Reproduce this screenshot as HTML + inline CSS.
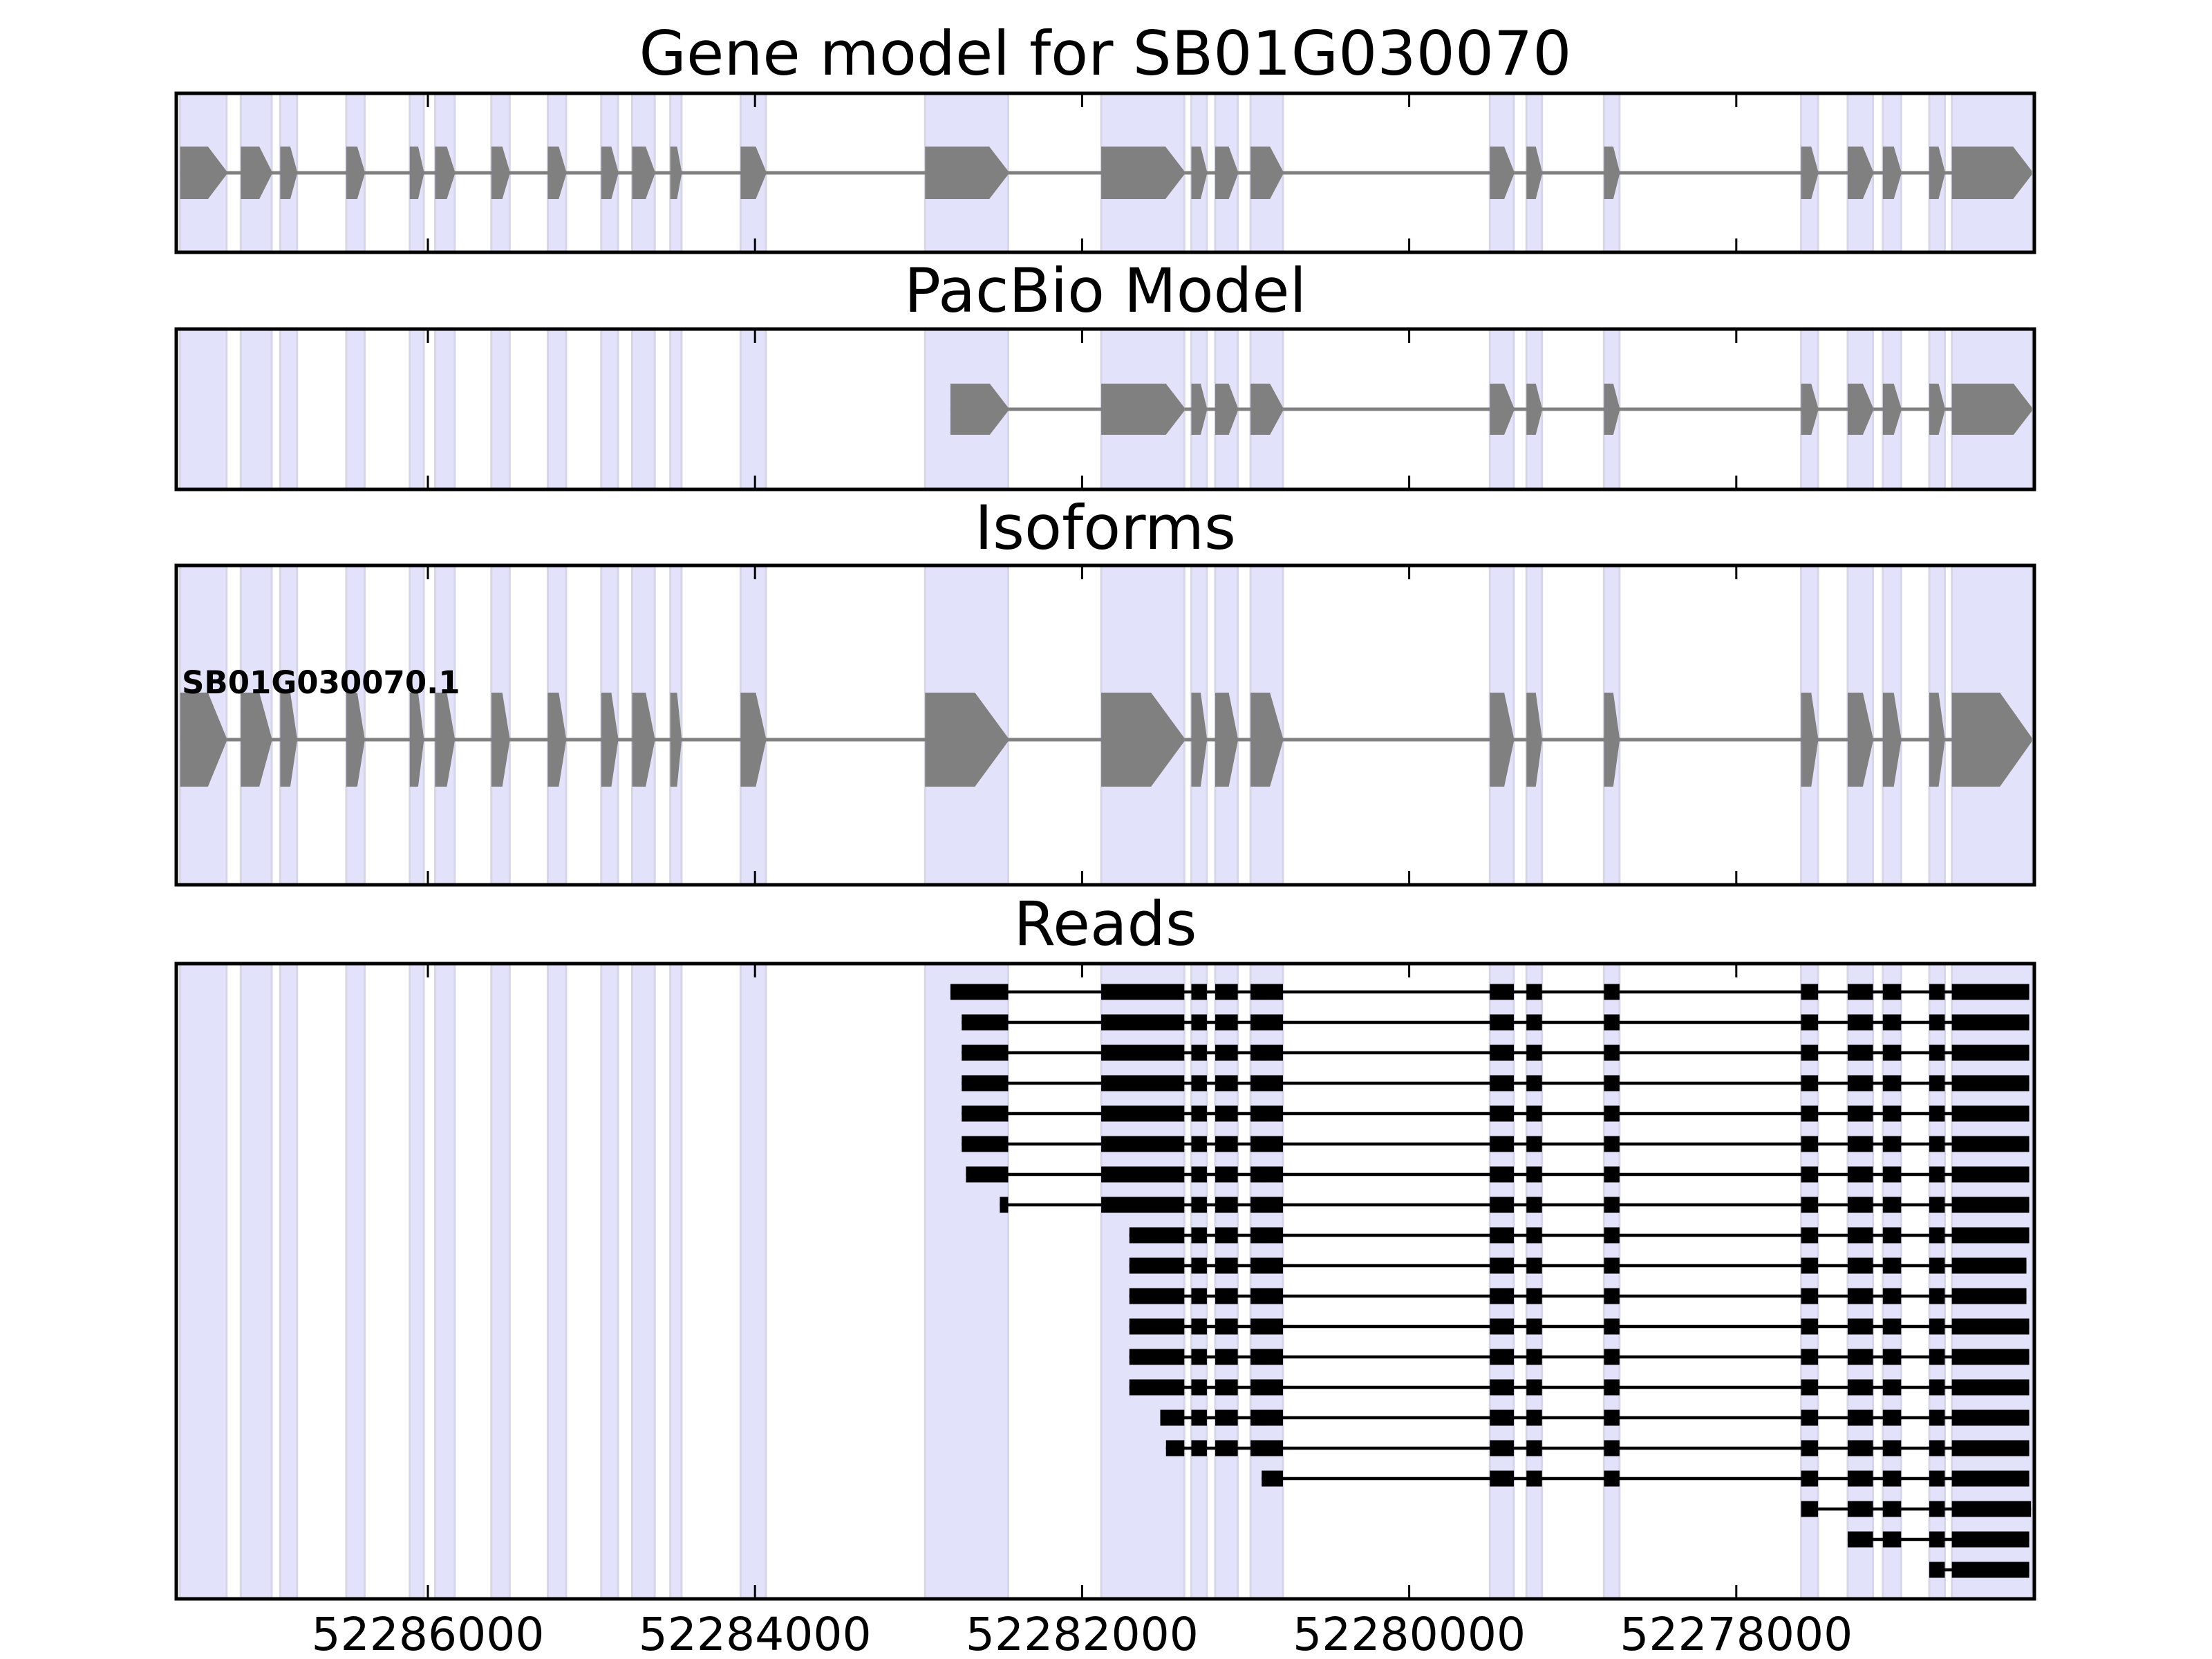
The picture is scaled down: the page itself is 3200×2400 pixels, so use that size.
<!DOCTYPE html>
<html><head><meta charset="utf-8"><style>
html,body{margin:0;padding:0;background:#fff}
svg{display:block}
text{font-family:"DejaVu Sans","Liberation Sans",sans-serif}
</style></head><body>
<svg id="fig" xmlns="http://www.w3.org/2000/svg" width="3200" height="2400" viewBox="0 0 3200 2400"></svg>
<script>
// ---- data ----
const tickValues = [52286000, 52284000, 52282000, 52280000, 52278000];
const tickLabels = ["52286000", "52284000", "52282000", "52280000", "52278000"];
const exonStarts = [52287515,52287144,52286903,52286499,52286111,52285956,52285612,52285267,52284940,52284751,52284518,52284088,52282960,52281883,52281332,52281186,52280970,52279507,52279283,52278809,52277604,52277319,52277104,52276820,52276682];
const exonEnds   = [52287231,52286955,52286800,52286387,52286025,52285836,52285500,52285155,52284837,52284613,52284449,52283933,52282452,52281375,52281237,52281048,52280772,52279360,52279188,52278714,52277500,52277164,52276992,52276725,52276192];
const pacbioFirstExon = 12;
const pacbioStart = 52282805;
const isoformName = "SB01G030070.1";
const readStarts = [52282805,52282736,52282736,52282736,52282736,52282736,52282710,52282503,52281711,52281711,52281711,52281711,52281711,52281711,52281522,52281487,52280902,52277604,52277319,52276820];
const readEnds   = [52276209,52276209,52276209,52276209,52276209,52276209,52276209,52276209,52276209,52276226,52276226,52276209,52276209,52276209,52276209,52276209,52276209,52276198,52276209,52276209];

// ---- axis ----
const AX_L = 255, AX_R = 2943;
const X_REF = 52286000, X_REF_PX = 619, PX_PER_BP = 0.2366;
function xs(g){ return X_REF_PX + (X_REF - g) * PX_PER_BP; }

const svg = document.getElementById('fig');
const NS = 'http://www.w3.org/2000/svg';
function mk(tag, attrs, parent){
  const e = document.createElementNS(NS, tag);
  for (const k in attrs) e.setAttribute(k, attrs[k]);
  (parent||svg).appendChild(e);
  return e;
}

const panels = [
  {name:'gene-model', title:'Gene model for SB01G030070', tlen:1349, top:135, bot:365, ty:108},
  {name:'pacbio-model', title:'PacBio Model', tlen:582, top:476, bot:708, ty:451},
  {name:'isoforms', title:'Isoforms', tlen:378, top:818, bot:1280, ty:794},
  {name:'reads', title:'Reads', tlen:265, top:1394, bot:2313, ty:1367}
];

panels.forEach((p, pi) => {
  const g = mk('g', {});
  
  
  for (let i = 0; i < exonStarts.length; i++){
    const x1 = xs(exonStarts[i]), x2 = xs(exonEnds[i]);
    const r = mk('rect', {x:x1, y:p.top, width:x2-x1, height:p.bot-p.top, fill:'rgb(226,226,251)', stroke:'rgb(214,214,232)', 'stroke-width':3}, g);
    
    
  }
  const t = mk('text', {x:(AX_L+AX_R)/2, y:p.ty, 'font-size':88, 'text-anchor':'middle', textLength:p.tlen, lengthAdjust:'spacingAndGlyphs'}, svg);
  t.textContent = p.title;
  
  
  p.g = g;
});

function drawGene(g, cy, half, starts, ends, firstStart){
  const x0 = xs(firstStart !== undefined ? firstStart : starts[0]);
  const xe = xs(ends[ends.length-1]);
  const ln = mk('line', {x1:x0, y1:cy, x2:xe, y2:cy, stroke:'#808080', 'stroke-width':5}, g);
  
  
  for (let i = 0; i < starts.length; i++){
    const a = xs(i===0 && firstStart!==undefined ? firstStart : starts[i]);
    const b = xs(ends[i]);
    const w = b - a;
    const tip = Math.min(half*0.72, w*0.4);
    const pts = [[a,cy-half],[b-tip,cy-half],[b,cy-2.5],[b,cy+2.5],[b-tip,cy+half],[a,cy+half]].map(q=>q.join(',')).join(' ');
    const pg = mk('polygon', {points:pts, fill:'#808080'}, g);
    
    
  }
}

drawGene(panels[0].g, 250, 38, exonStarts, exonEnds);
drawGene(panels[1].g, 592, 37, exonStarts.slice(pacbioFirstExon), exonEnds.slice(pacbioFirstExon), pacbioStart);
drawGene(panels[2].g, 1070, 68, exonStarts, exonEnds);
const lab = mk('text', {x:263, y:1003, 'font-size':45, 'font-weight':'bold'}, panels[2].g);
lab.textContent = isoformName;



const ROW0 = 1435, ROWH = 44, BH = 23;
readStarts.forEach((rs, ri) => {
  const re = readEnds[ri];
  const cy = ROW0 + ri*ROWH;
  const rg = mk('g', {}, panels[3].g);
  
  
  const ln = mk('line', {x1:xs(rs), y1:cy, x2:xs(re), y2:cy, stroke:'#000', 'stroke-width':4.5}, rg);
  
  
  for (let i = 0; i < exonStarts.length; i++){
    const s = Math.min(exonStarts[i], rs), e = Math.max(exonEnds[i], re);
    if (s <= e) continue;
    const isLast = i === exonStarts.length-1;
    const a = xs(s), b = xs(isLast ? re : e);
    const r = mk('rect', {x:a, y:cy-BH/2, width:b-a, height:BH, fill:'#000'}, rg);
    
    
  }
});

panels.forEach((p) => {
  tickValues.forEach((v) => {
    const x = xs(v);
    const t1 = mk('line', {x1:x, y1:p.top, x2:x, y2:p.top+20, stroke:'#000', 'stroke-width':3});
    
    
    const t2 = mk('line', {x1:x, y1:p.bot, x2:x, y2:p.bot-20, stroke:'#000', 'stroke-width':3});
    
    
  });
  const f = mk('rect', {x:AX_L, y:p.top, width:AX_R-AX_L, height:p.bot-p.top, fill:'none', stroke:'#000', 'stroke-width':5});
  
  
});
tickValues.forEach((v, i) => {
  const t = mk('text', {x:xs(v), y:2387, 'font-size':66, 'text-anchor':'middle', textLength:337, lengthAdjust:'spacingAndGlyphs'});
  t.textContent = tickLabels[i];
  
  
});
</script>
</body></html>
